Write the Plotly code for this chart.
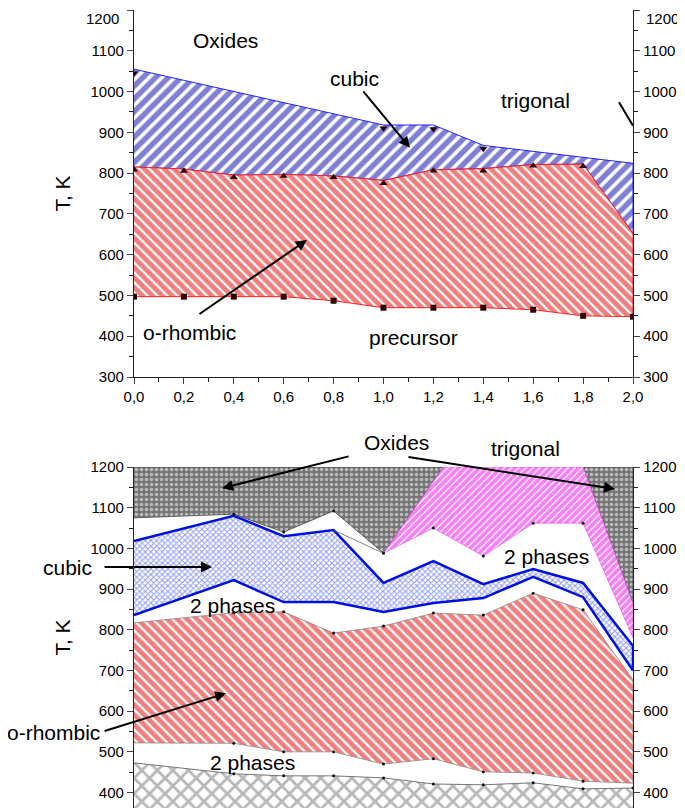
import plotly.graph_objects as go

FONT = "Liberation Sans, Arial, sans-serif"

# ---------------- top panel data ----------------
grid_x = [0.0, 0.2, 0.4, 0.6, 0.8, 1.0, 1.2, 1.4, 1.6, 1.8, 2.0]
cubic_top_x = [0.0, 1.0, 1.2, 1.4, 2.0]
cubic_top_y = [1055, 918, 918, 868, 824]
cubic_mark_x = [0.0, 1.0, 1.2, 1.4]
cubic_mark_y = [1045, 910, 908, 860]
orh_top_y = [815, 810, 795, 797, 793, 782, 808, 811, 821, 822, 652]
orh_mark_y = [808, 805, 790, 793, 790, 775, 806, 806, 818, 817]
orh_bot_y = [497, 497, 497, 497, 487, 470, 470, 470, 465, 450, 448]
top_tick_vals = [300, 400, 500, 600, 700, 800, 900, 1000, 1100, 1200]
top_tick_text = ["300", "400", "500", "600", "700", "800", "900", "1000", "1100", ""]
top_edge_label = "1200"

# ---------------- bottom panel data ----------------
b_x = [0.0, 0.4, 0.6, 0.8, 1.0, 1.2, 1.4, 1.6, 1.8, 2.0]
ox_bound_x = [0.0, 0.4, 0.6, 0.8, 1.0, 1.24, 1.8, 2.0]
ox_bound_y = [1075, 1084, 1040, 1092, 988, 1200, 1200, 865]
OX_TOP = 1200
trig_low_x = [1.0, 1.2, 1.4, 1.6, 1.8, 2.0]
trig_low_y = [988, 1050, 981, 1062, 1062, 780]
cub_up_y = [1018, 1080, 1030, 1045, 915, 969, 912, 949, 915, 760]
cub_lo_y = [836, 922, 868, 868, 844, 866, 878, 930, 880, 700]
orh2_top_y = [817, 842, 844, 792, 809, 841, 836, 890, 849, 677]
orh2_bot_y = [522, 521, 500, 500, 470, 483, 451, 448, 428, 423]
prec_top_y = [473, 446, 441, 441, 436, 421, 419, 424, 409, 411]
thin_x = [0.8, 1.0]
thin_y = [1045, 988]

fig = go.Figure()

def poly(xu, yu, xl, yl):
    return list(xu) + list(xl)[::-1], list(yu) + list(yl)[::-1]

# ---- top panel fills
px_, py_ = poly(cubic_top_x, cubic_top_y, grid_x, orh_top_y)
fig.add_trace(go.Scatter(x=px_, y=py_, fill="toself", mode="lines",
                         line=dict(color="#2222ff", width=1),
                         fillcolor="rgba(0,0,0,0)",
                         fillpattern=dict(shape="/", fgcolor="#0000aa", bgcolor="white", size=9, solidity=0.6),
                         xaxis="x", yaxis="y", showlegend=False, hoverinfo="skip"))
px_, py_ = poly(grid_x, orh_top_y, grid_x, orh_bot_y)
fig.add_trace(go.Scatter(x=px_, y=py_, fill="toself", mode="lines",
                         line=dict(color="#ff2020", width=1),
                         fillcolor="rgba(0,0,0,0)",
                         fillpattern=dict(shape="\\", fgcolor="#e00000", bgcolor="white", size=7, solidity=0.68),
                         xaxis="x", yaxis="y", showlegend=False, hoverinfo="skip"))
fig.add_trace(go.Scatter(x=cubic_mark_x, y=cubic_mark_y, mode="markers",
                         marker=dict(symbol="triangle-down", size=7, color="#200000"),
                         xaxis="x", yaxis="y", showlegend=False, hoverinfo="skip"))
fig.add_trace(go.Scatter(x=grid_x[:-1], y=orh_mark_y, mode="markers",
                         marker=dict(symbol="triangle-up", size=7, color="#300000"),
                         xaxis="x", yaxis="y", showlegend=False, hoverinfo="skip"))
fig.add_trace(go.Scatter(x=grid_x, y=orh_bot_y, mode="markers",
                         marker=dict(symbol="square", size=6, color="#300000"),
                         xaxis="x", yaxis="y", showlegend=False, hoverinfo="skip"))
fig.add_trace(go.Scatter(x=[0], y=[1200], mode="markers", marker=dict(opacity=0),
                         xaxis="x", yaxis="y3", showlegend=False, hoverinfo="skip"))

# ---- bottom panel fills
fig.add_trace(go.Scatter(x=ox_bound_x + [2.0, 0.0], y=ox_bound_y + [OX_TOP, OX_TOP],
                         fill="toself", mode="lines", line=dict(color="#444444", width=0.8),
                         fillcolor="rgba(0,0,0,0)",
                         fillpattern=dict(shape=".", fgcolor="white", bgcolor="#747474", size=5, solidity=0.4),
                         xaxis="x2", yaxis="y2", showlegend=False, hoverinfo="skip"))
i_tr = ox_bound_x.index(1.0)
px_, py_ = poly(ox_bound_x[i_tr:], ox_bound_y[i_tr:], trig_low_x, trig_low_y)
fig.add_trace(go.Scatter(x=px_, y=py_, fill="toself", mode="lines",
                         line=dict(color="#dd44dd", width=0.6),
                         fillcolor="rgba(0,0,0,0)",
                         fillpattern=dict(shape="/", fgcolor="#ee00ee", bgcolor="white", size=5, solidity=0.75),
                         xaxis="x2", yaxis="y2", showlegend=False, hoverinfo="skip"))
px_, py_ = poly(b_x, cub_up_y, b_x, cub_lo_y)
fig.add_trace(go.Scatter(x=px_, y=py_, fill="toself", mode="lines",
                         line=dict(color="#0010e0", width=2.5),
                         fillcolor="rgba(0,0,0,0)",
                         fillpattern=dict(shape="x", fgcolor="#2233dd", bgcolor="white", size=4, solidity=0.45),
                         xaxis="x2", yaxis="y2", showlegend=False, hoverinfo="skip"))
px_, py_ = poly(b_x, orh2_top_y, b_x, orh2_bot_y)
fig.add_trace(go.Scatter(x=px_, y=py_, fill="toself", mode="lines",
                         line=dict(color="#888888", width=0.8),
                         fillcolor="rgba(0,0,0,0)",
                         fillpattern=dict(shape="\\", fgcolor="#e00000", bgcolor="white", size=7, solidity=0.68),
                         xaxis="x2", yaxis="y2", showlegend=False, hoverinfo="skip"))
fig.add_trace(go.Scatter(x=b_x, y=prec_top_y, fill="tozeroy", mode="lines",
                         line=dict(color="#777777", width=1),
                         fillcolor="rgba(0,0,0,0)",
                         fillpattern=dict(shape="x", fgcolor="#707070", bgcolor="white", size=11, solidity=0.45),
                         xaxis="x2", yaxis="y2", showlegend=False, hoverinfo="skip"))
fig.add_trace(go.Scatter(x=thin_x, y=thin_y, mode="lines", line=dict(color="#666666", width=0.8),
                         xaxis="x2", yaxis="y2", showlegend=False, hoverinfo="skip"))
# vertex dots
for xs, ys in [(ox_bound_x[1:5], ox_bound_y[1:5]), (trig_low_x[1:5], trig_low_y[1:5]),
               (b_x[1:-1], orh2_top_y[1:-1]), (b_x[1:-1], orh2_bot_y[1:-1]),
               (b_x[1:], prec_top_y[1:])]:
    fig.add_trace(go.Scatter(x=xs, y=ys, mode="markers", marker=dict(size=3, color="#111111"),
                             xaxis="x2", yaxis="y2", showlegend=False, hoverinfo="skip"))
fig.add_trace(go.Scatter(x=[0], y=[1200], mode="markers", marker=dict(opacity=0),
                         xaxis="x2", yaxis="y4", showlegend=False, hoverinfo="skip"))

OFF = 8  # page body margin
W, H = 685, 808
XD = [(134 - OFF) / W, (633 - OFF) / W]
TOPD = [(H - (377 - OFF)) / H, (H - (10 - OFF)) / H]
BOTD = [(H - (808 - OFF)) / H, (H - (467 - OFF)) / H]
tickfont = dict(family=FONT, size=15, color="black")
yax = dict(ticks="outside", ticklen=6, tickwidth=1.2, showline=True, linecolor="#222",
           linewidth=1.3, showgrid=False, zeroline=False, tickfont=tickfont,
           automargin=False, ticklabeloverflow="allow",
           minor=dict(ticks="outside", ticklen=4, dtick=50, tickcolor="#222"))
top_ticks = dict(tickmode="array", tickvals=top_tick_vals, ticktext=top_tick_text)

fig.update_layout(
    width=W, height=H, margin=dict(l=0, r=0, t=0, b=0),
    paper_bgcolor="white", plot_bgcolor="white", separators=",.",
    font=dict(family=FONT, color="black"),
    xaxis=dict(domain=XD, anchor="y", range=[0, 2.0], dtick=0.2, tickformat=".1f",
               ticks="outside", ticklen=6, tickwidth=1.2, showline=True, linecolor="#222",
               linewidth=1.3, showgrid=False, zeroline=False, tickfont=tickfont, automargin=False,
               minor=dict(ticks="outside", ticklen=4, dtick=0.1, tickcolor="#222")),
    yaxis=dict(domain=TOPD, anchor="x", range=[300, 1200],
               title=dict(text="T, K", font=dict(family=FONT, size=21), standoff=14),
               **top_ticks, **yax),
    yaxis3=dict(overlaying="y", side="right", anchor="x", range=[300, 1200], **top_ticks, **yax),
    xaxis2=dict(domain=XD, anchor="y2", range=[0, 2.0], showticklabels=False, showline=False,
                showgrid=False, zeroline=False, automargin=False),
    yaxis2=dict(domain=BOTD, anchor="x2", range=[362, 1200], dtick=100,
                title=dict(text="T, K", font=dict(family=FONT, size=21), standoff=14), **yax),
    yaxis4=dict(overlaying="y2", side="right", anchor="x2", range=[362, 1200], dtick=100, **yax),
)

# 1200 edge labels of the top panel, kept inside the page
for px, anchor in [(121, "right"), (644, "left")]:
    fig.add_annotation(text=top_edge_label, x=(px - OFF) / W, y=1.0, xref="paper", yref="paper",
                       xanchor=anchor, yanchor="top", showarrow=False, font=tickfont)

LF = dict(family=FONT, size=21, color="black")
def label(text, x, y, ax="x", ay="y"):
    fig.add_annotation(text=text, x=x, y=y, xref=ax, yref=ay, showarrow=False, font=LF,
                       xanchor="center", yanchor="middle")

def plabel(text, px, py):
    fig.add_annotation(text=text, x=(px - OFF) / W, y=(H - (py - OFF)) / H, xref="paper",
                       yref="paper", showarrow=False, font=LF, xanchor="center", yanchor="middle")

def arrow(x0, y0, x1, y1, ax="x", ay="y"):
    fig.add_annotation(x=x1, y=y1, ax=x0, ay=y0, xref=ax, yref=ay, axref=ax, ayref=ay,
                       text="", showarrow=True, arrowhead=2, arrowsize=1.1, arrowwidth=2,
                       arrowcolor="black")

# top labels
label("Oxides", 0.365, 1126)
label("cubic", 0.882, 1033)
arrow(0.914, 1004, 1.106, 862)
label("trigonal", 1.611, 979)
fig.add_shape(type="line", x0=1.944, y0=974, x1=2.0, y1=916, xref="x", yref="y",
              line=dict(color="black", width=2))
label("o-rhombic", 0.224, 410)
arrow(0.2565, 452, 0.693, 636)
label("precursor", 1.122, 396)

# bottom labels
plabel("Oxides", 396, 442)
arrow(0.866, 1227, 0.353, 1148, "x2", "y2")
arrow(1.094, 1225, 1.928, 1146, "x2", "y2")
plabel("trigonal", 525, 448)
label("2 phases", 1.655, 981, "x2", "y2")
plabel("cubic", 67, 567)
arrow(-0.124, 954, 0.313, 954, "x2", "y2")
label("2 phases", 0.393, 860, "x2", "y2")
plabel("o-rhombic", 53, 732)
arrow(-0.124, 550, 0.369, 644, "x2", "y2")
label("2 phases", 0.473, 474, "x2", "y2")

fig.write_html("out.html")
